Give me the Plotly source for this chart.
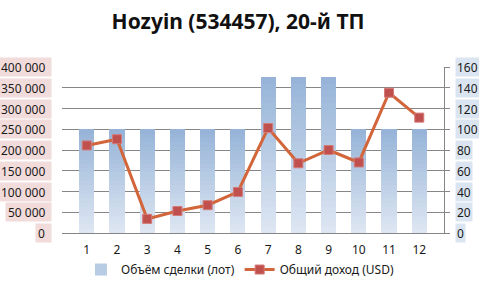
import plotly.graph_objects as go

categories = ["1", "2", "3", "4", "5", "6", "7", "8", "9", "10", "11", "12"]
volume_lots = [100, 100, 100, 100, 100, 100, 150, 150, 150, 100, 100, 100]
income_usd = [211000, 226000, 34000, 53000, 67000, 99000, 253000, 168000, 200000, 170000, 338000, 278000]
left_ticks = [0, 50000, 100000, 150000, 200000, 250000, 300000, 350000, 400000]
right_ticks = [0, 20, 40, 60, 80, 100, 120, 140, 160]
title_text = "Hozyin (534457), 20-й ТП"
bar_name = "Объём сделки (лот)"
line_name = "Общий доход (USD)"

FONT = "Noto Sans"
top_rgb = (149, 179, 215)
bot_rgb = (223, 231, 243)
N = 24

fig = go.Figure()
for i in range(N):
    t = (i + 0.5) / N
    c = tuple(round(bot_rgb[k] + (top_rgb[k] - bot_rgb[k]) * t) for k in range(3))
    fig.add_trace(go.Bar(
        x=categories, y=[v / N for v in volume_lots],
        marker=dict(color="rgb(%d,%d,%d)" % c, line=dict(width=0)),
        name=bar_name, legendgroup="bars",
        showlegend=(i == N // 2), legendrank=1,
        yaxis="y", hoverinfo="skip",
    ))

fig.add_trace(go.Scatter(
    x=categories, y=income_usd, name=line_name, yaxis="y2",
    mode="lines+markers", legendrank=2,
    line=dict(color="#d2653a", width=3),
    marker=dict(symbol="square", size=9, color="#c0504d",
                line=dict(color="#d47a78", width=1)),
))

annotations = []
for v in left_ticks:
    s = "{:,}".format(v).replace(",", "\u00a0")
    annotations.append(dict(
        x=0, xref="paper", y=v, yref="y2", xanchor="right", yanchor="middle",
        xshift=-10, text=s + "\u2009\u2009", showarrow=False,
        bgcolor="#f2dcdb", borderpad=2, height=14,
        font=dict(family=FONT, size=12, color="#1a1a1a"),
    ))
for v in right_ticks:
    annotations.append(dict(
        x=1, xref="paper", y=v, yref="y", xanchor="left", yanchor="middle",
        xshift=11, text=str(v), showarrow=False,
        bgcolor="#dbe5f1", borderpad=1, height=16,
        font=dict(family=FONT, size=12, color="#1a1a1a"),
    ))

fig.update_layout(
    width=479, height=287,
    margin=dict(l=62, r=35, t=67, b=54, autoexpand=False),
    paper_bgcolor="white", plot_bgcolor="white",
    barmode="stack", bargap=0.5,
    title=dict(text="<b>" + title_text + "</b>", x=0.497, xref="container", xanchor="center",
               y=0.925, yanchor="middle",
               font=dict(family=FONT, size=21, color="#111111")),
    font=dict(family=FONT, size=12, color="#1a1a1a"),
    xaxis=dict(type="category", showgrid=False, showline=True, linecolor="#868686",
               linewidth=1, ticks="", tickfont=dict(family=FONT, size=12),
               ticklabelstandoff=6),
    yaxis=dict(side="right", range=[0, 160], tickvals=right_ticks,
               showticklabels=False, showgrid=True, gridcolor="#868686", gridwidth=1,
               showline=True, linecolor="#868686", ticks="outside", ticklen=5,
               tickcolor="#868686", zeroline=False),
    yaxis2=dict(side="left", overlaying="y", range=[0, 400000], tickvals=left_ticks,
                showticklabels=False, showgrid=False, showline=False, zeroline=False),
    legend=dict(orientation="h", x=0.466, xanchor="center", y=-0.22, yanchor="middle",
                font=dict(family=FONT, size=12), traceorder="normal",
                itemwidth=30, tracegroupgap=0),
    annotations=annotations,
    showlegend=True,
)

fig.write_html("out.html")
